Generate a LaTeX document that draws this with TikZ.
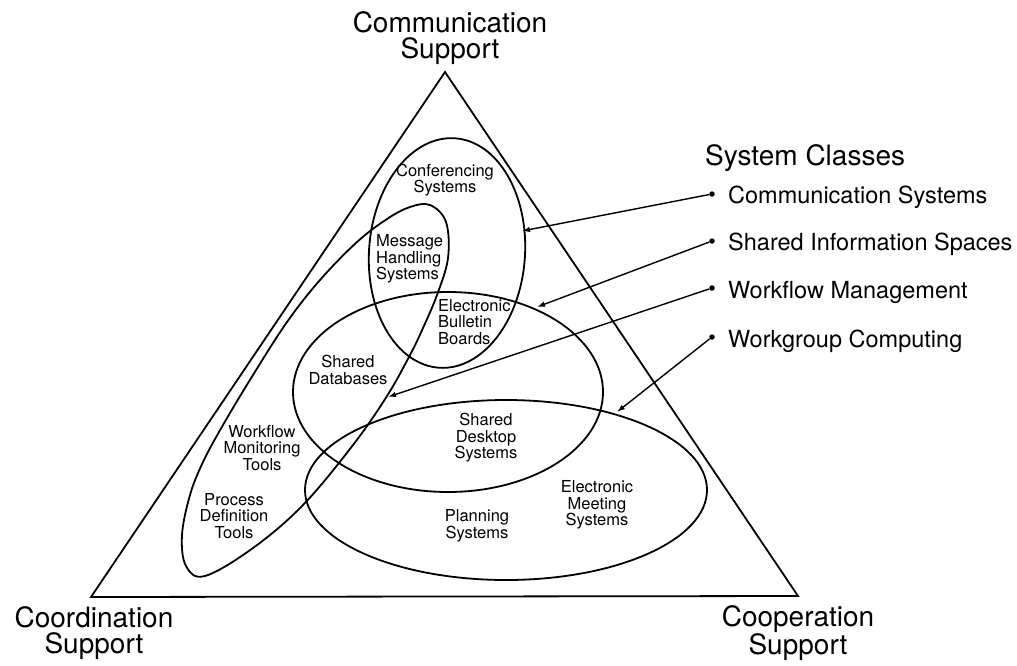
\documentclass[tikz,border=0pt]{standalone}
\usepackage{fontspec}
\setmainfont{TeX Gyre Heros}
\usetikzlibrary{arrows.meta}
\begin{document}
\begin{tikzpicture}[x=1pt,y=-1pt,
  outline/.style={line width=1.8pt},
  lbl/.style={inner sep=0pt, font=\fontsize{16.5}{16.5}\selectfont, align=center},
  lbll/.style={inner sep=0pt, font=\fontsize{16.5}{16.5}\selectfont, align=left, anchor=west},
  ttl/.style={inner sep=0pt, font=\fontsize{28}{26}\selectfont, align=center},
  leg/.style={inner sep=0pt, anchor=base west, font=\fontsize{23.5}{24}\selectfont},
  dotn/.style={circle, fill=black, inner sep=0pt, minimum size=5.5pt},
  arr/.style={line width=1.4pt, -{Latex[length=8pt,width=5.5pt]}}
]
\useasboundingbox (0,0) rectangle (1017,665);
\fill[white] (0,0) rectangle (1017,665);

% triangle
\coordinate (apex) at (445,72);
\coordinate (bl) at (91,597);
\coordinate (br) at (798,596);
\draw[outline, line join=miter] (apex) -- (bl) -- (br) -- cycle;

% ellipses
\draw[outline, rotate around={-4:(447,253)}] (447,253) ellipse [x radius=78, y radius=115];
\draw[outline] (448,392) ellipse [x radius=155, y radius=100];
\draw[outline] (506,490) ellipse [x radius=201, y radius=90];
\draw[outline] plot[smooth cycle, tension=0.6] coordinates {
  (430,205) (446,222) (448,258) (437,295) (423,328) (410,355) (387,396)
  (353,445) (303,505) (253,548) (205,576) (186,566) (182,535) (190,495)
  (203,462) (223,425) (253,375) (287,322) (320,280) (357,242) (387,219) (410,207)};

% inner labels
\node[lbl] (conf) at (445,180) {Conferencing\\Systems};
\node[lbll] (mhs) at (376,259) {Message\\Handling\\Systems};
\node[lbll] (ebb) at (438,322) {Electronic\\Bulletin\\Boards};
\node[lbl] (sdb) at (348,370) {Shared\\Databases};
\node[lbl] (sds) at (486,438) {Shared\\Desktop\\Systems};
\node[lbl] (wmt) at (262,448) {Workflow\\Monitoring\\Tools};
\node[lbl] (pdt) at (234,516) {Process\\Definition\\Tools};
\node[lbl] (ems) at (597,505) {Electronic\\Meeting\\Systems};
\node[lbl] (pls) at (477,526) {Planning\\Systems};

% corner titles
\node[ttl] (comm) at (450,38) {Communication\\Support};
\node[ttl] (coord) at (94,633) {Coordination\\Support};
\node[ttl] (coop) at (798,633) {Cooperation\\Support};

% legend
\node[inner sep=0pt, anchor=base west, font=\fontsize{28}{28}\selectfont] (sc) at (705,165) {System Classes};
\node[leg] (l1) at (728,203) {Communication Systems};
\node[leg] (l2) at (728,250) {Shared Information Spaces};
\node[leg] (l3) at (728,298) {Workflow Management};
\node[leg] (l4) at (728,347) {Workgroup Computing};
\node[dotn] (d1) at (712,194) {};
\node[dotn] (d2) at (712,241) {};
\node[dotn] (d3) at (712,288) {};
\node[dotn] (d4) at (712,337) {};

\coordinate (t1) at (522,231);
\coordinate (t2) at (537,307);
\coordinate (t3) at (388,397);
\coordinate (t4) at (617,412);
\draw[arr] (d1) -- (t1);
\draw[arr] (d2) -- (t2);
\draw[arr] (d3) -- (t3);
\draw[arr] (d4) -- (t4);
\end{tikzpicture}
\end{document}
